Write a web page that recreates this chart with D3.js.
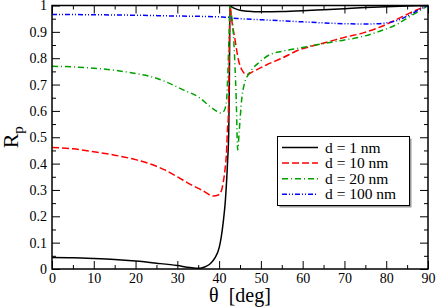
<!DOCTYPE html>
<html>
<head>
  <meta charset="utf-8" />
  <style>
    body { margin: 0; background: #fff; }
    text { font-family: "Liberation Serif", "Times New Roman", Times, serif; fill: #000; }
  </style>
</head>
<body>
  <svg id="svg" width="436" height="307"></svg>
  <script src="https://d3js.org/d3.v7.min.js"></script>
  <script>
    // reflectance Rp vs angle
    const theta1 = [0, 5, 10, 15, 20, 25, 30, 33, 35, 36, 37, 38, 39, 40, 40.5, 41, 41.5, 42, 42.3, 42.45, 42.6, 43, 44, 45, 47, 50, 55, 60, 65, 70, 75, 80, 85, 90]
    const r1 = [0.044, 0.043, 0.04, 0.036, 0.03, 0.022, 0.013, 0.006, 0.003, 0.005, 0.011, 0.022, 0.042, 0.08, 0.12, 0.18, 0.26, 0.4, 0.52, 0.7, 1.0, 0.995, 0.987, 0.982, 0.978, 0.976, 0.977, 0.98, 0.984, 0.988, 0.992, 0.995, 0.998, 1.0]

    const theta10 = [0, 5, 10, 15, 20, 25, 27, 30, 33, 35.8, 38.6, 39.8, 40.6, 41, 41.4, 41.8, 42, 42.2, 42.4, 42.6, 43, 43.8, 44.6, 45.4, 46.6, 48.2, 51.4, 55, 59.4, 62, 66.5, 70, 74.5, 78, 82.5, 85.7, 88, 90]
    const r10 = [0.461, 0.456, 0.445, 0.432, 0.415, 0.39, 0.376, 0.35, 0.322, 0.3, 0.277, 0.281, 0.3, 0.33, 0.376, 0.452, 0.53, 0.58, 0.77, 1.0, 0.947, 0.871, 0.795, 0.757, 0.738, 0.75, 0.775, 0.8, 0.833, 0.845, 0.864, 0.879, 0.896, 0.915, 0.947, 0.972, 0.988, 1.0]

    const theta20 = [0, 5, 10, 15, 20, 23.5, 27, 31.4, 35.4, 37.8, 39.5, 40.4, 41.2, 41.8, 42.1, 42.4, 42.6, 43, 43.4, 43.8, 44.1, 44.45, 44.8, 45.4, 46, 47, 48, 49.4, 52.2, 55, 59.4, 63, 66.5, 70, 74.5, 78, 82.5, 85.7, 88, 90]
    const r20 = [0.769, 0.767, 0.762, 0.754, 0.742, 0.731, 0.712, 0.68, 0.649, 0.617, 0.598, 0.592, 0.6, 0.643, 0.75, 0.9, 1.0, 0.96, 0.896, 0.77, 0.643, 0.452, 0.52, 0.643, 0.7, 0.738, 0.76, 0.782, 0.814, 0.826, 0.839, 0.85, 0.86, 0.869, 0.883, 0.9, 0.928, 0.959, 0.98, 1.0]

    const theta100 = [0, 10, 20, 30, 40, 42, 42.6, 43, 45, 50, 55, 60, 65, 70, 75, 78, 80, 83, 85, 88, 90]
    const r100 = [0.966, 0.965, 0.963, 0.96, 0.957, 0.955, 0.956, 0.952, 0.95, 0.946, 0.942, 0.938, 0.934, 0.931, 0.93, 0.931, 0.934, 0.945, 0.96, 0.985, 1.0]

    const seriesNames = ['d = 1 nm', 'd = 10 nm', 'd = 20 nm', 'd = 100 nm']
    const xTicks = [0, 10, 20, 30, 40, 50, 60, 70, 80, 90]
    const yTicks = [0, 0.1, 0.2, 0.3, 0.4, 0.5, 0.6, 0.7, 0.8, 0.9, 1]

    const series = [
      { name: seriesNames[0], xs: theta1, ys: r1, color: '#000', dash: null },
      { name: seriesNames[1], xs: theta10, ys: r10, color: '#ff0000', dash: '7,3' },
      { name: seriesNames[2], xs: theta20, ys: r20, color: '#00a000', dash: '6,3,1,3' },
      { name: seriesNames[3], xs: theta100, ys: r100, color: '#0000ff', dash: '5,2,1,2,1,2' }
    ]

    const pLeft = 52, pRight = 428, pTop = 5.5, pBottom = 269
    const serif = '"Liberation Serif", "Times New Roman", Times, serif'

    const x = d3.scaleLinear().domain([0, 90]).range([pLeft, pRight])
    const y = d3.scaleLinear().domain([0, 1]).range([pBottom, pTop])

    const svg = d3.select('#svg')

    svg.append('defs').append('clipPath').attr('id', 'clip')
      .append('rect').attr('x', pLeft).attr('y', pTop - 1).attr('width', pRight - pLeft).attr('height', pBottom - pTop + 1)

    const xMinor = d3.range(5, 90, 10)
    const yMinor = d3.range(0.05, 1, 0.1)

    function styleLabels(g) {
      g.attr('font-family', serif).attr('font-size', 14)
      g.selectAll('text').attr('font-family', serif).attr('font-size', 14)
    }

    // bottom axis (ticks inside)
    svg.append('g').attr('transform', `translate(0,${pBottom})`)
      .call(d3.axisBottom(x).tickValues(xTicks).tickSize(-8).tickPadding(4).tickFormat(d3.format('d')))
      .call(g => g.select('.domain').remove())
      .call(styleLabels)
    svg.append('g').attr('transform', `translate(0,${pBottom})`)
      .call(d3.axisBottom(x).tickValues(xMinor).tickSize(-4).tickFormat(''))
      .call(g => g.select('.domain').remove())
    // top
    svg.append('g').attr('transform', `translate(0,${pTop})`)
      .call(d3.axisTop(x).tickValues(xTicks).tickSize(-8).tickFormat(''))
      .call(g => g.select('.domain').remove())
    svg.append('g').attr('transform', `translate(0,${pTop})`)
      .call(d3.axisTop(x).tickValues(xMinor).tickSize(-4).tickFormat(''))
      .call(g => g.select('.domain').remove())
    // left
    svg.append('g').attr('transform', `translate(${pLeft},0)`)
      .call(d3.axisLeft(y).tickValues(yTicks).tickSize(-8).tickPadding(5).tickFormat(d3.format('~g')))
      .call(g => g.select('.domain').remove())
      .call(styleLabels)
    svg.append('g').attr('transform', `translate(${pLeft},0)`)
      .call(d3.axisLeft(y).tickValues(yMinor).tickSize(-4).tickFormat(''))
      .call(g => g.select('.domain').remove())
    // right
    svg.append('g').attr('transform', `translate(${pRight},0)`)
      .call(d3.axisRight(y).tickValues(yTicks).tickSize(-8).tickFormat(''))
      .call(g => g.select('.domain').remove())
    svg.append('g').attr('transform', `translate(${pRight},0)`)
      .call(d3.axisRight(y).tickValues(yMinor).tickSize(-4).tickFormat(''))
      .call(g => g.select('.domain').remove())

    const line = d3.line().curve(d3.curveMonotoneX)

    const plot = svg.append('g').attr('clip-path', 'url(#clip)')
    series.forEach(s => {
      plot.append('path')
        .attr('d', line(s.xs.map((t, i) => [x(t), y(s.ys[i])])))
        .attr('fill', 'none')
        .attr('stroke', s.color)
        .attr('stroke-width', 1.5)
        .attr('stroke-dasharray', s.dash)
    })

    // frame
    svg.append('rect')
      .attr('x', pLeft).attr('y', pTop)
      .attr('width', pRight - pLeft).attr('height', pBottom - pTop)
      .attr('fill', 'none').attr('stroke', '#000').attr('stroke-width', 1.5)

    // axis labels
    const xlab = svg.append('text')
      .attr('x', (pLeft + pRight) / 2).attr('y', 302)
      .attr('text-anchor', 'middle').attr('font-size', 20)
    xlab.append('tspan').text('θ')
    xlab.append('tspan').attr('dx', 10).text('[deg]')

    const ylab = svg.append('text')
      .attr('transform', `translate(18,${(pTop + pBottom) / 2}) rotate(-90)`)
      .attr('text-anchor', 'middle').attr('font-size', 22)
    ylab.append('tspan').text('R')
    ylab.append('tspan').attr('font-size', 15).attr('dy', 5).text('p')

    // legend
    const lg = svg.append('g').attr('transform', 'translate(277,136)')
    lg.append('rect').attr('x', 2.5).attr('y', 2.5).attr('width', 132).attr('height', 69).attr('fill', '#999')
    lg.append('rect').attr('x', 0.5).attr('y', 0.5).attr('width', 132).attr('height', 69)
      .attr('fill', '#fff').attr('stroke', '#000').attr('stroke-width', 1)
    series.forEach((s, i) => {
      const yy = 11.5 + i * 15.6
      lg.append('line').attr('x1', 5).attr('x2', 41).attr('y1', yy).attr('y2', yy)
        .attr('stroke', s.color).attr('stroke-width', 1.5).attr('stroke-dasharray', s.dash)
      lg.append('text').attr('x', 48).attr('y', yy + 5).attr('font-size', 15.5).text(s.name)
    })
  </script>
</body>
</html>
